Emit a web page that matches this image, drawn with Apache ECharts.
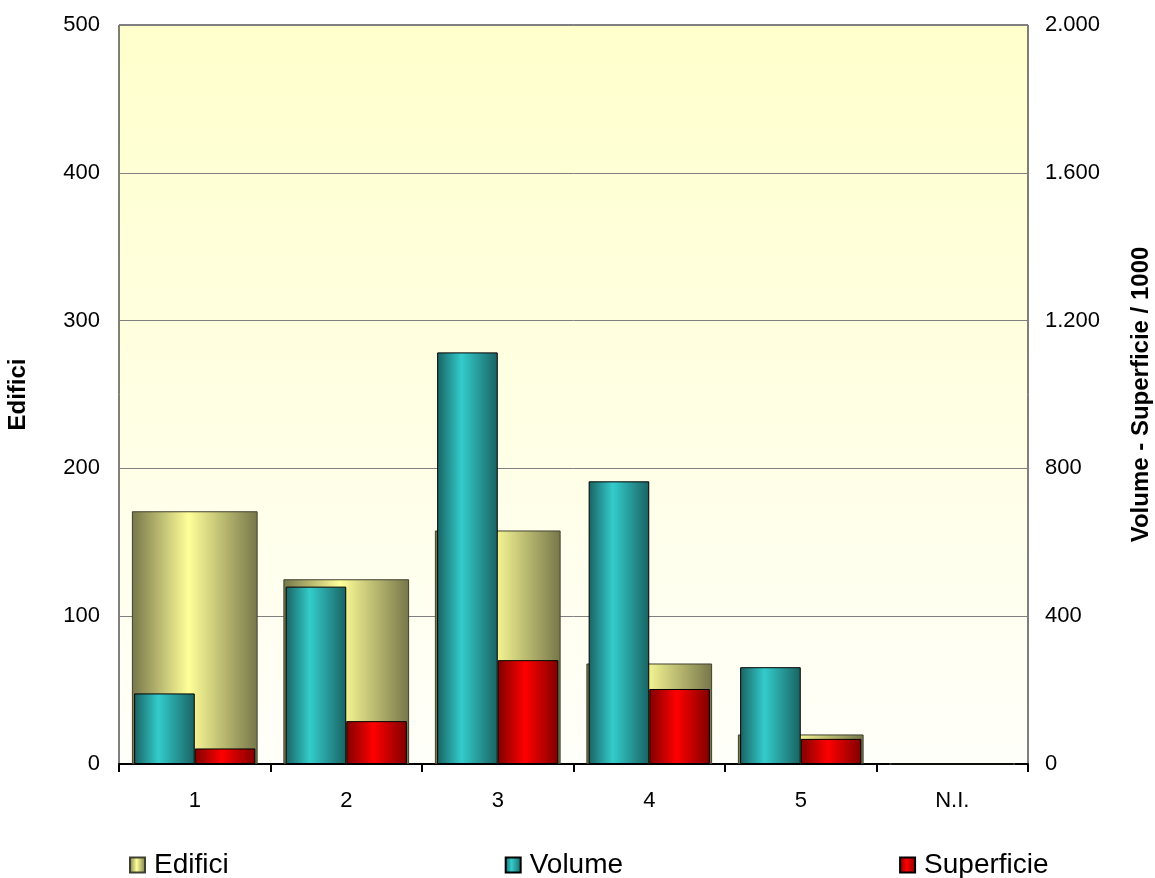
<!DOCTYPE html>
<html>
<head>
<meta charset="utf-8">
<script src="https://cdn.jsdelivr.net/npm/echarts@6/dist/echarts.min.js"></script>
<style>
html,body{margin:0;padding:0;background:#fff;}
#chart{width:1155px;height:878px;}
</style>
</head>
<body>
<div id="chart"></div>
<script>
const categories = ['1', '2', '3', '4', '5', 'N.I.'];
const edifici = [171, 125, 158, 68, 20, 0];
const volume = [191, 480, 1114, 765, 262, 0];
const superficie = [42, 116, 281, 203, 68, 0];

const FONT = '"Liberation Sans", Arial, sans-serif';

function hgrad(edge, mid, pos) {
  return new echarts.graphic.LinearGradient(0, 0, 1, 0, [
    {offset: 0, color: edge},
    {offset: pos, color: mid},
    {offset: 1, color: edge}
  ]);
}

const chart = echarts.init(document.getElementById('chart'));
chart.setOption({
  animation: false,
  textStyle: {fontFamily: FONT},
  grid: {
    left: 119, right: 127, top: 25, bottom: 114,
    outerBoundsMode: 'none',
    containLabel: false,
    show: true,
    borderColor: '#000', borderWidth: 1,
    backgroundColor: new echarts.graphic.LinearGradient(0, 0, 0, 1, [
      {offset: 0, color: '#ffffcc'},
      {offset: 1, color: '#fffffa'}
    ])
  },
  legend: {
    top: 846, left: 124,
    itemGap: 276, itemWidth: 15, itemHeight: 15,
    icon: 'rect',
    textStyle: {fontSize: 28, color: '#000', fontFamily: FONT, padding: [0, 0, 0, 4]},
    data: ['Edifici', 'Volume', 'Superficie']
  },
  xAxis: [
    {
      type: 'category', data: categories,
      axisLine: {lineStyle: {color: '#000', width: 2}},
      axisTick: {show: true, length: 8, lineStyle: {color: '#000', width: 2}},
      axisLabel: {fontSize: 22, color: '#000', margin: 26, fontFamily: FONT},
      splitLine: {show: false}
    },
    {type: 'category', data: categories, show: false}
  ],
  yAxis: [
    {
      type: 'value', min: 0, max: 500, interval: 100,
      name: 'Edifici', nameLocation: 'middle', nameRotate: 90, nameGap: 89,
      nameTextStyle: {fontSize: 24, fontWeight: 'bold', color: '#000', fontFamily: FONT},
      axisLine: {show: false}, axisTick: {show: false},
      axisLabel: {fontSize: 22, color: '#000', margin: 19, fontFamily: FONT},
      splitLine: {show: true, lineStyle: {color: '#808080', width: 1}}
    },
    {
      type: 'value', min: 0, max: 2000, interval: 400, position: 'right',
      name: 'Volume - Superficie / 1000', nameLocation: 'middle', nameRotate: 90, nameGap: 101,
      nameTextStyle: {fontSize: 24, fontWeight: 'bold', color: '#000', fontFamily: FONT},
      axisLine: {show: false}, axisTick: {show: false},
      axisLabel: {fontSize: 22, color: '#000', margin: 17, fontFamily: FONT,
        formatter: v => String(v).replace(/\B(?=(\d{3})+(?!\d))/g, '.')},
      splitLine: {show: false}
    }
  ],
  series: [
    {
      name: 'Edifici', type: 'bar', xAxisIndex: 0, yAxisIndex: 0,
      data: edifici, barWidth: '83%',
      itemStyle: {color: hgrad('#76764a', '#ffff99', 0.45), borderColor: '#404030', borderWidth: 1}
    },
    {
      name: 'Volume', type: 'bar', xAxisIndex: 1, yAxisIndex: 1,
      data: volume, barWidth: '40%', barGap: '0%',
      itemStyle: {color: hgrad('#1a6262', '#33cccc', 0.4), borderColor: '#000', borderWidth: 1}
    },
    {
      name: 'Superficie', type: 'bar', xAxisIndex: 1, yAxisIndex: 1,
      data: superficie, barWidth: '40%', barGap: '0%',
      itemStyle: {color: hgrad('#800000', '#ff0000', 0.45), borderColor: '#000', borderWidth: 1}
    }
  ]
});
</script>
</body>
</html>
